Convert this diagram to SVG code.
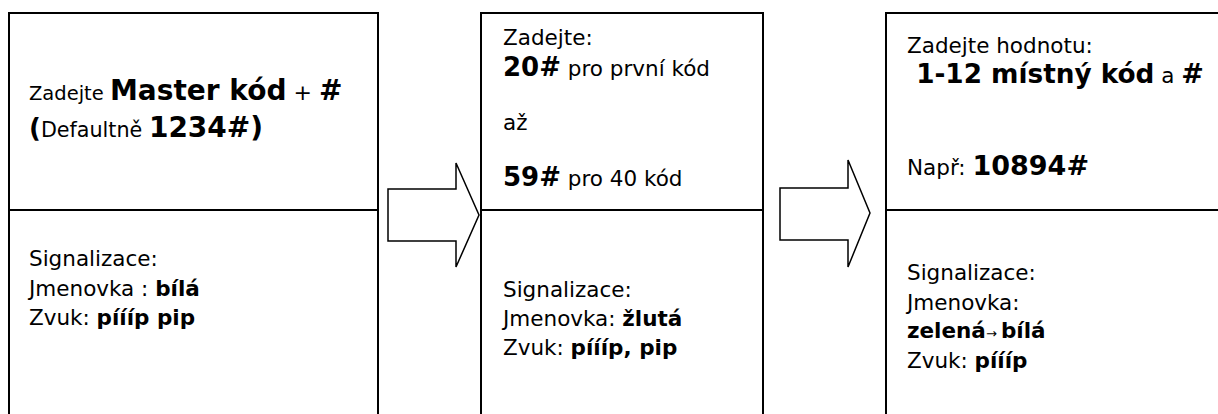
<svg xmlns="http://www.w3.org/2000/svg" width="1218" height="414" viewBox="0 0 1218 414">
<style>
.box{fill:#fff;stroke:#000;stroke-width:2}
.div{stroke:#000;stroke-width:2}
.arr{fill:#fff;stroke:#000;stroke-width:1.5;stroke-linejoin:miter}
text{font-family:"DejaVu Sans","Verdana",sans-serif;font-size:21.5px;fill:#000}
.b{font-weight:bold}
.big{font-size:28px;font-weight:bold}
.mid{font-size:26px;font-weight:bold}
</style>
<rect width="1218" height="414" fill="#fff"/>
<g id="node1">
<rect class="box" x="9" y="13" width="369" height="420"/>
<line class="div" x1="9" y1="210" x2="378" y2="210"/>
<text x="29" y="100" style="font-size:19.5px">Zadejte <tspan class="big">Master kód</tspan><tspan style="font-size:22px"> + </tspan><tspan class="big">#</tspan></text>
<text x="29" y="137" style="font-size:20.7px"><tspan class="big" style="font-size:26px">(</tspan>Defaultně <tspan class="big">1234#)</tspan></text>
<text x="29" y="266">Signalizace:</text>
<text x="29" y="296">Jmenovka : <tspan class="b">bílá</tspan></text>
<text x="29" y="325">Zvuk: <tspan class="b">píííp pip</tspan></text>
</g>
<g id="node2">
<rect class="box" x="481" y="13" width="282" height="420"/>
<line class="div" x1="481" y1="210" x2="763" y2="210"/>
<text x="503" y="45">Zadejte:</text>
<text x="503" y="76"><tspan class="mid">20#</tspan> pro první kód</text>
<text x="503" y="130">až</text>
<text x="503" y="186"><tspan class="mid">59#</tspan> pro 40 kód</text>
<text x="503" y="297">Signalizace:</text>
<text x="503" y="326">Jmenovka: <tspan class="b">žlutá</tspan></text>
<text x="503" y="355">Zvuk: <tspan class="b">píííp, pip</tspan></text>
</g>
<g id="node3">
<rect class="box" x="886" y="13" width="340" height="420"/>
<line class="div" x1="886" y1="210" x2="1226" y2="210"/>
<text x="907" y="53">Zadejte hodnotu:</text>
<text x="907" y="83" xml:space="preserve"><tspan class="big" style="font-size:26.3px"> 1-12 místný kód</tspan> a <tspan class="big" style="font-size:27px">#</tspan></text>
<text x="907" y="175">Např: <tspan class="mid" style="font-size:27px">10894#</tspan></text>
<text x="907" y="280">Signalizace:</text>
<text x="907" y="310">Jmenovka:</text>
<text x="907" y="338"><tspan class="b">zelená</tspan><tspan style="font-size:13px">→ </tspan><tspan class="b">bílá</tspan></text>
<text x="907" y="368">Zvuk: <tspan class="b">píííp</tspan></text>
</g>
<g id="connectors">
<polygon class="arr" points="388,189 456,189 456,163 479,215 456,267 456,241 388,241"/>
<polygon class="arr" points="780,188 848,188 848,160 870,213 848,267 848,240 780,240"/>
</g>
</svg>
